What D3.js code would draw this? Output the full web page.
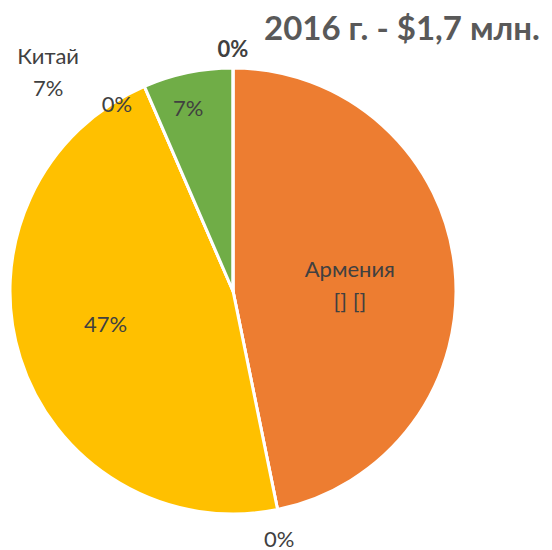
<!DOCTYPE html>
<html>
<head>
<meta charset="utf-8">
<script src="https://cdn.jsdelivr.net/npm/d3@7"></script>
<style>
  body { margin: 0; background: #fff; }
  text { font-family: Lato, "Open Sans", sans-serif; fill: #404040; }
</style>
</head>
<body>
<div id="chart"></div>
<script>
// data (shares, %)
const categories = ['Армения', 'нет данных 1', 'нет данных 2', 'нет данных 3', 'Китай', 'нет данных 4'];
const values = [46.8, 0, 46.7, 0, 6.5, 0];
const colors = ['#ED7D31', '#A5A5A5', '#FFC000', '#5B9BD5', '#70AD47', '#264478'];
const labelTexts = [['Армения', '[] []'], ['0%'], ['47%'], ['0%'], ['7%'], ['0%']];
const calloutTexts = ['Китай', '7%'];
const title = '2016 г. - $1,7 млн.';

const width = 552, height = 550;
const cx = 233, cy = 291, R = 223;

// label placement: angle (deg clockwise from top) and radius factor
const labelLayout = [
  { a: 86.6, r: 0.525, size: 22, bold: false },
  { a: 169.4, r: 1.125, size: 22, bold: false },
  { a: 255.8, r: 0.59, size: 22, bold: false },
  { a: 328.3, r: 0.99, size: 22, bold: false },
  { a: 346.3, r: 0.85, size: 22, bold: false },
  { a: 0, r: 1.09, size: 22, bold: true }
];
const calloutLayout = { a: 320, r: 1.29, size: 22 };

const svg = d3.select('#chart').append('svg')
  .attr('width', width)
  .attr('height', height);

const pie = d3.pie().sort(null).value(d => d)(values);
const arc = d3.arc().innerRadius(0).outerRadius(R);

const g = svg.append('g').attr('transform', `translate(${cx},${cy})`);

g.selectAll('path')
  .data(pie)
  .join('path')
  .attr('d', arc)
  .attr('fill', (d, i) => colors[i])
  .attr('stroke', '#fff')
  .attr('stroke-width', 3)
  .attr('stroke-linejoin', 'round');

function polar(a, r) {
  const t = a * Math.PI / 180;
  return [Math.sin(t) * r * R, -Math.cos(t) * r * R];
}

const lineH = 32;
labelTexts.forEach((lines, i) => {
  const L = labelLayout[i];
  const [x, y] = polar(L.a, L.r);
  const t = g.append('text')
    .attr('x', x)
    .attr('y', y - (lines.length - 1) * lineH / 2)
    .attr('text-anchor', 'middle')
    .attr('dominant-baseline', 'central')
    .style('font-size', L.size + 'px')
    .style('font-weight', L.bold ? 'bold' : 'normal');
  lines.forEach((s, k) => {
    t.append('tspan').attr('x', x).attr('dy', k === 0 ? 0 : lineH).text(s);
  });
});

{
  const [x, y] = polar(calloutLayout.a, calloutLayout.r);
  const t = g.append('text')
    .attr('x', x)
    .attr('y', y - lineH / 2)
    .attr('text-anchor', 'middle')
    .attr('dominant-baseline', 'central')
    .style('font-size', calloutLayout.size + 'px');
  calloutTexts.forEach((s, k) => {
    t.append('tspan').attr('x', x).attr('dy', k === 0 ? 0 : lineH).text(s);
  });
}

svg.append('text')
  .attr('x', 402)
  .attr('y', 40)
  .attr('text-anchor', 'middle')
  .style('font-size', '33px')
  .style('font-weight', 'bold')
  .style('fill', '#595959')
  .text(title);
</script>
</body>
</html>
